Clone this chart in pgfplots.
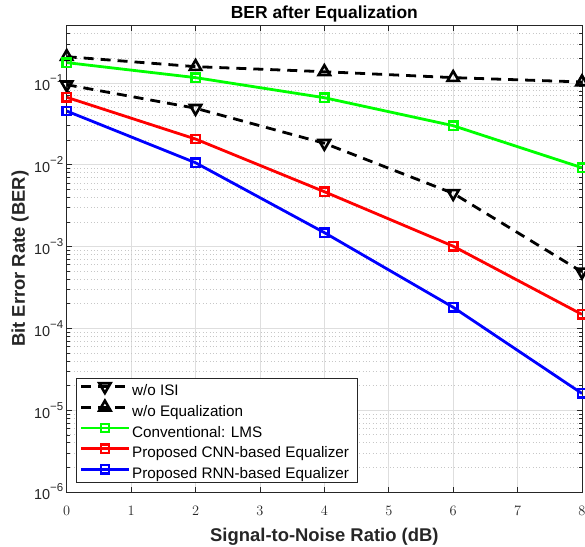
\documentclass[border=0pt]{standalone}
\usepackage{fontspec}
\setmainfont{Liberation Sans}
\usepackage{pgfplots}
\pgfplotsset{compat=1.18}
\definecolor{mgreen}{rgb}{0,1,0}
\definecolor{mred}{rgb}{1,0,0}
\definecolor{mblue}{rgb}{0,0,1}
\definecolor{axgray}{gray}{0.15}
\newcommand{\ex}[1]{\raisebox{0.55em}{\fontsize{11.5}{12}\selectfont −#1}}
\begin{document}
\begin{tikzpicture}
\begin{axis}[
  name=ax,
  scale only axis, width=515.3bp, height=466.3bp,
  xmin=0, xmax=8, ymode=log, ymin=1e-6, ymax=0.5,
  xtick={0,1,2,3,4,5,6,7,8},
  ytick={1e-6,1e-5,1e-4,1e-3,1e-2,1e-1},
  yticklabels={10\ex{6},10\ex{5},10\ex{4},10\ex{3},10\ex{2},10\ex{1}},
  minor ytick={2e-6,3e-6,4e-6,5e-6,6e-6,7e-6,8e-6,9e-6,
               2e-5,3e-5,4e-5,5e-5,6e-5,7e-5,8e-5,9e-5,
               2e-4,3e-4,4e-4,5e-4,6e-4,7e-4,8e-4,9e-4,
               2e-3,3e-3,4e-3,5e-3,6e-3,7e-3,8e-3,9e-3,
               2e-2,3e-2,4e-2,5e-2,6e-2,7e-2,8e-2,9e-2,
               0.2,0.3,0.4},
  xmajorgrids, ymajorgrids, yminorgrids,
  major grid style={line width=0.6bp, color=black!13},
  minor grid style={line width=0.7bp, color=black!22, dash pattern=on 0.8bp off 2.6bp},
  tick align=inside,
  major tick length=5.5bp, minor tick length=3bp,
  every tick/.style={axgray, line width=0.6bp},
  axis line style={axgray, line width=0.8bp},
  tick label style={font=\fontsize{14.5}{16}\selectfont, text=axgray},
  xticklabel style={yshift=-11bp},
  title={BER after Equalization},
  title style={font=\bfseries\fontsize{17.5}{20}\selectfont, at={(axis description cs:0.5,1)}, anchor=base, yshift=1.4bp},
  xlabel={Signal-to-Noise Ratio (dB)},
  xlabel style={font=\bfseries\fontsize{18.5}{21}\selectfont, text=axgray, at={(axis description cs:0.5,0)}, anchor=base, yshift=-49.7bp},
  ylabel={Bit Error Rate (BER)},
  ylabel style={font=\bfseries\fontsize{18.5}{21}\selectfont, text=axgray, at={(axis description cs:0,0.5)}, anchor=base, yshift=41.7bp},
  legend cell align=left,
  legend style={at={(axis description cs:0,0)}, anchor=south west, xshift=9.3bp, yshift=9bp,
    draw=axgray, line width=0.8bp, fill=white,
    font=\fontsize{15.3}{17}\selectfont,
    inner xsep=4.7bp, inner ysep=2bp, row sep=2.9bp,
    nodes={inner xsep=3.4bp, inner ysep=0pt, text height=15.8bp, text depth=2bp, text=black}},
  legend image code/.code={\draw[overlay,mark repeat=2,mark phase=2,#1] plot coordinates {(0bp,2.4bp)(23.8bp,2.4bp)(47.6bp,2.4bp)};
    \path[draw=none,fill=none] (0bp,0bp) rectangle (47.6bp,8bp);},
]
\addplot[black, line width=2.8bp, dash pattern=on 10bp off 7bp, mark=triangle, mark size=6.5bp,
  mark options={solid, rotate=180, fill=white, line width=2.6bp}]
  coordinates {(0,0.095) (2,0.049) (4,0.0183) (6,0.00447) (8,0.00049)};
\addlegendentry{w/o ISI}
\addplot[black, line width=2.8bp, dash pattern=on 10bp off 7bp, mark=triangle, mark size=6.5bp,
  mark options={solid, fill=white, line width=2.6bp}]
  coordinates {(0,0.209) (2,0.158) (4,0.137) (6,0.116) (8,0.1026)};
\addlegendentry{w/o Equalization}
\addplot[mgreen, line width=2.8bp, mark=square, mark size=4.2bp,
  mark options={solid, fill=mgreen!55!white, line width=2.4bp}]
  coordinates {(0,0.177) (2,0.116) (4,0.0659) (6,0.030) (8,0.00919)};
\addlegendentry{Conventional: LMS}
\addplot[mred, line width=2.8bp, mark=square, mark size=4.2bp,
  mark options={solid, fill=mred!55!white, line width=2.4bp}]
  coordinates {(0,0.0667) (2,0.0206) (4,0.00468) (6,0.00101) (8,0.000148)};
\addlegendentry{Proposed CNN-based Equalizer}
\addplot[mblue, line width=2.8bp, mark=square, mark size=4.2bp,
  mark options={solid, fill=mblue!55!white, line width=2.4bp}]
  coordinates {(0,0.0453) (2,0.01057) (4,0.00148) (6,0.000181) (8,0.000016)};
\addlegendentry{Proposed RNN-based Equalizer}
\end{axis}
\pgfresetboundingbox
\path ([xshift=-66.7bp,yshift=-54bp]ax.south west) rectangle ([xshift=3bp,yshift=25.7bp]ax.north east);
\end{tikzpicture}
\end{document}
